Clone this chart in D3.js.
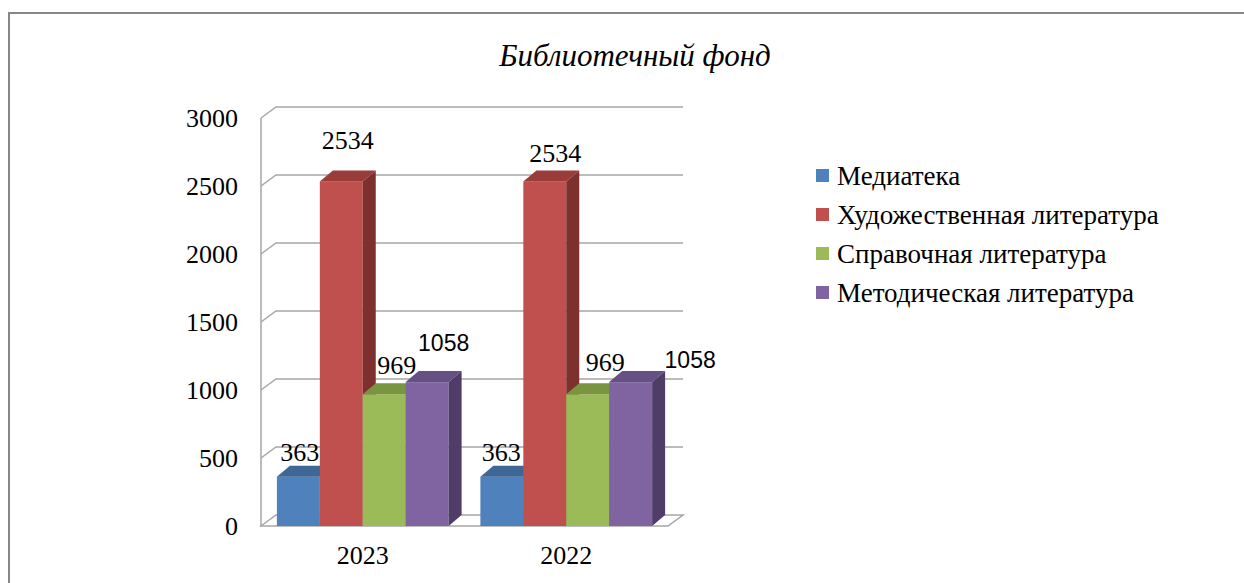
<!DOCTYPE html>
<html>
<head>
<meta charset="utf-8">
<script src="https://cdn.jsdelivr.net/npm/d3@7"></script>
<style>
	body { margin: 0; background: #fff; }
	svg { display: block; }
	text { font-family: "Liberation Serif", "Times New Roman", serif; fill: #000; }
	text.sans { font-family: "Liberation Sans", Arial, sans-serif; }
</style>
</head>
<body>
<svg id="myGraph" width="1244" height="583"></svg>
<script>
window.addEventListener("load", function(){

	// 데이터
	var years = ["2023", "2022"];
	var seriesNames = ["Медиатека", "Художественная литература", "Справочная литература", "Методическая литература"];
	var mediateka = [363, 363];
	var hudozh = [2534, 2534];
	var spravoch = [969, 969];
	var metodich = [1058, 1058];
	var yTicks = [0, 500, 1000, 1500, 2000, 2500, 3000];

	var frontColors = ["#4F81BD", "#C0504D", "#9BBB59", "#8064A2"];
	var topColors = ["#3E6797", "#9A3D3A", "#7A953F", "#664F83"];
	var sideColors = ["#385D8A", "#7E302E", "#5F7530", "#4F3D68"];

	var values = [mediateka, hudozh, spravoch, metodich];

	// 라벨 위치 보정 (series, year 순서)
	var labelNudge = [
		[[-5, 3], [-7, 3]],
		[[0, -13], [4, 0]],
		[[6, -1], [11, -4]],
		[[10, -11], [53, 6]]
	];

	var svg = d3.select("#myGraph");

	// 바깥 테두리
	svg.append("rect")
		.attr("x", 9).attr("y", 13)
		.attr("width", 1300).attr("height", 700)
		.attr("fill", "none")
		.attr("stroke", "#878787")
		.attr("stroke-width", 2);

	// 제목
	svg.append("text")
		.attr("x", 635).attr("y", 55)
		.attr("dy", "0.35em")
		.attr("text-anchor", "middle")
		.style("font-style", "italic")
		.style("font-size", "31px")
		.text("Библиотечный фонд");

	var left = 261, right = 668, bottom = 526, top = 118;
	var wallDx = 15, wallDy = 11;	// 뒤쪽 벽 오프셋
	var barDx = 13, barDy = 11;		// 막대 깊이

	var y = d3.scaleLinear().domain([0, 3000]).range([bottom, top]);
	var x0 = d3.scaleBand().domain(years).range([left, right]);
	var x1 = d3.scaleBand().domain(seriesNames).range([0, x0.bandwidth()]).paddingInner(0).paddingOuter(0.37);

	// 그리드 (옆벽 사선 + 뒤벽 가로선)
	var grid = svg.append("g").attr("stroke", "#A6A6A6").attr("stroke-width", 1.5).attr("fill", "none");
	yTicks.forEach(function(t){
		if (t === 0) return;
		grid.append("path")
			.attr("d", "M" + left + "," + y(t) + "L" + (left + wallDx) + "," + (y(t) - wallDy) + "L" + (right + wallDx) + "," + (y(t) - wallDy));
	});
	// 바닥
	grid.append("path")
		.attr("d", "M" + left + "," + y(0) + "L" + (left + wallDx) + "," + (y(0) - wallDy) + "L" + (right + wallDx) + "," + (y(0) - wallDy) + "L" + right + "," + y(0) + "Z");
	grid.append("line")
		.attr("x1", left).attr("x2", left).attr("y1", y(3000)).attr("y2", y(0));

	// y축 라벨
	var yAxis = d3.axisLeft(y).tickValues(yTicks).tickSize(0).tickPadding(23).tickFormat(d3.format("d"));
	var gy = svg.append("g").attr("transform", "translate(" + left + ",0)").call(yAxis);
	gy.select(".domain").remove();
	gy.selectAll("text").style("font-size", "26px").attr("fill", "#000");

	// x축 라벨
	var xAxis = d3.axisBottom(x0).tickSize(0).tickPadding(20);
	var gx = svg.append("g").attr("transform", "translate(0," + bottom + ")").call(xAxis);
	gx.select(".domain").remove();
	gx.selectAll("text").style("font-size", "26px").attr("fill", "#000");

	// 3D 막대
	var bars = svg.append("g");
	years.forEach(function(yr, j){
		seriesNames.forEach(function(s, i){
			var v = values[i][j];
			var xa = x0(yr) + x1(s), xb = xa + x1.bandwidth();
			var yt = y(v), yb = y(0);
			var g = bars.append("g");
			g.append("rect")
				.attr("x", xa).attr("y", yt)
				.attr("width", xb - xa).attr("height", yb - yt)
				.attr("fill", frontColors[i]);
			g.append("path")
				.attr("d", "M" + xa + "," + yt + "L" + (xa + barDx) + "," + (yt - barDy) + "L" + (xb + barDx) + "," + (yt - barDy) + "L" + xb + "," + yt + "Z")
				.attr("fill", topColors[i]);
			g.append("path")
				.attr("d", "M" + xb + "," + yt + "L" + (xb + barDx) + "," + (yt - barDy) + "L" + (xb + barDx) + "," + (yb - barDy) + "L" + xb + "," + yb + "Z")
				.attr("fill", sideColors[i]);
		});
	});

	// 데이터 라벨
	years.forEach(function(yr, j){
		seriesNames.forEach(function(s, i){
			var v = values[i][j];
			var cx = x0(yr) + x1(s) + x1.bandwidth() / 2 + barDx / 2;
			var n = labelNudge[i][j];
			svg.append("text")
				.attr("class", i === 3 ? "sans" : null)
				.attr("x", cx + n[0])
				.attr("y", y(v) - 28 + n[1])
				.attr("dy", "0.35em")
				.attr("text-anchor", "middle")
				.style("font-size", i === 3 ? "23px" : "26px")
				.text(v);
		});
	});

	// 범례
	var legend = svg.append("g");
	seriesNames.forEach(function(s, i){
		var ly = 176 + i * 39;
		legend.append("rect")
			.attr("x", 816).attr("y", ly - 7)
			.attr("width", 13).attr("height", 13)
			.attr("fill", frontColors[i]);
		legend.append("text")
			.attr("x", 837).attr("y", ly)
			.attr("dy", "0.35em")
			.style("font-size", "27px")
			.text(s);
	});

});
</script>
</body>
</html>
